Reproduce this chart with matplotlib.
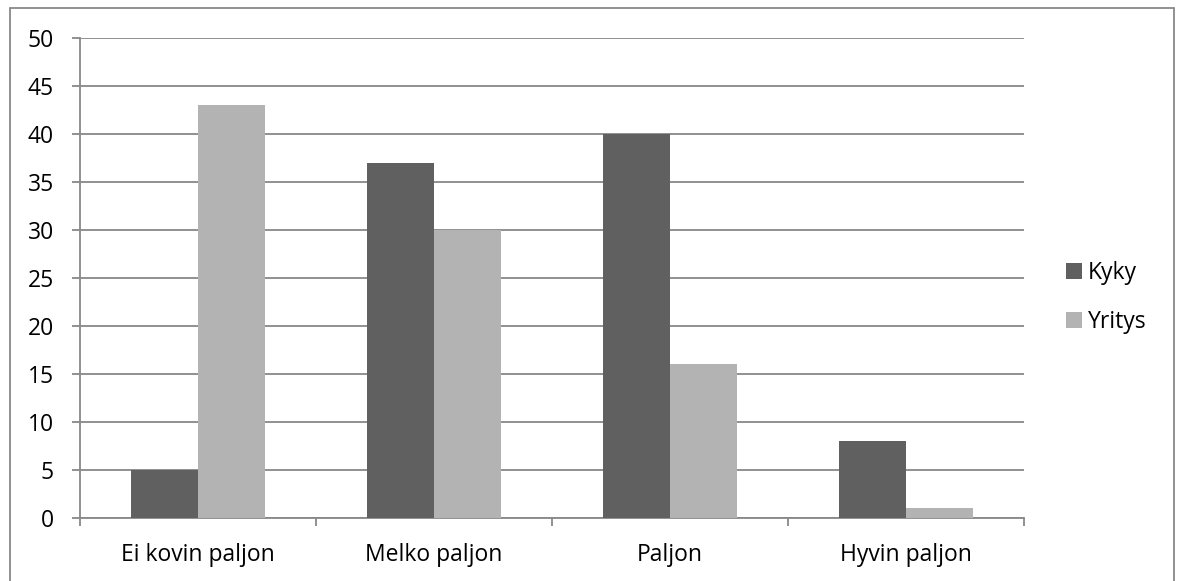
import numpy as np
import matplotlib.pyplot as plt
from matplotlib.patches import Rectangle

categories = ["Ei kovin paljon", "Melko paljon", "Paljon", "Hyvin paljon"]
kyky = [5, 37, 40, 8]
yritys = [43, 30, 16, 1]

W, H = 1179, 581
plt.rcParams['font.family'] = ['Open Sans', 'DejaVu Sans']
FS = 16.5

fig = plt.figure(figsize=(W / 100, H / 100), dpi=100)
ax = fig.add_axes([80 / W, (H - 518) / H, (1024 - 80) / W, (518 - 38) / H])

x = np.arange(len(categories))
bw = 0.285
ax.bar(x - bw / 2, kyky, bw, color="#606060", label="Kyky", zorder=3)
ax.bar(x + bw / 2, yritys, bw, color="#b3b3b3", label="Yritys", zorder=3)

grid_c = "#888888"
lw = 1.3
ax.set_ylim(0, 50)
ax.set_xlim(-0.5, len(categories) - 0.5)
ax.set_yticks(range(0, 51, 5))
ax.yaxis.grid(True, color=grid_c, linewidth=lw, zorder=0)
ax.set_xticks(x)
ax.set_xticklabels(categories)
ax.set_xticks(np.arange(-0.5, len(categories)), minor=True)
ax.tick_params(axis='x', which='major', length=0, pad=18, labelsize=FS)
ax.tick_params(axis='x', which='minor', length=5.8, width=lw, color=grid_c, direction='out')
ax.tick_params(axis='y', length=5.8, width=lw, color=grid_c, pad=13, labelsize=FS)
for s in ("top", "right"):
    ax.spines[s].set_visible(False)
for s in ("left", "bottom"):
    ax.spines[s].set_color(grid_c)
    ax.spines[s].set_linewidth(lw)

fig.legend(loc="upper left", bbox_to_anchor=(1066 / W, 1 - 261 / H),
           frameon=False, fontsize=FS, handlelength=0.7, handleheight=0.7,
           handletextpad=0.25, labelspacing=1.1, borderpad=0, borderaxespad=0)

# outer chart border
fig.patches.append(Rectangle((10 / W, -0.05), (1174 - 10) / W, 1.05 - 8 / H,
                             transform=fig.transFigure, fill=False,
                             edgecolor=grid_c, linewidth=lw))

fig.savefig("out.png", dpi=100)
